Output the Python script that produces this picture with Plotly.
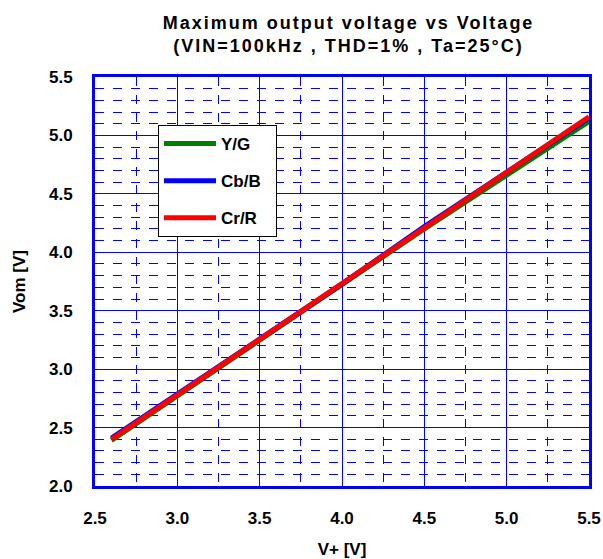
import plotly.graph_objects as go

vplus = [2.6, 3.0, 3.5, 4.0, 4.5, 5.0, 5.5]
yg = [2.39, 2.77, 3.24, 3.72, 4.20, 4.66, 5.12]
cbb = [2.41, 2.79, 3.26, 3.73, 4.22, 4.68, 5.15]
crr = [2.40, 2.78, 3.25, 3.73, 4.21, 4.68, 5.16]
names = ["Y/G", "Cb/B", "Cr/R"]
colors = ["#008000", "#0000FF", "#FF0000"]
x_ticks = [2.5, 3.0, 3.5, 4.0, 4.5, 5.0, 5.5]
y_ticks = [2.0, 2.5, 3.0, 3.5, 4.0, 4.5, 5.0, 5.5]
title_lines = ["Maximum output voltage vs Voltage", "(VIN=100kHz , THD=1% , Ta=25\u00b0C)"]

FONT = "Liberation Sans, Arial, sans-serif"
LS = '<span style="letter-spacing:2px">'
fig = go.Figure()
for i, (n, ys) in enumerate(zip(names, [yg, cbb, crr])):
    fig.add_trace(go.Scatter(x=vplus, y=ys, mode="lines", name=f"<b>{n}</b>&nbsp;&nbsp;", legendgroup=n,
                             line=dict(color=colors[i], width=5)))

fig.update_layout(
    width=603, height=559,
    margin=dict(l=95, r=14, t=77, b=73, autoexpand=False),
    paper_bgcolor="white", plot_bgcolor="white",
    font=dict(family=FONT, color="black"),
    title=dict(text="<br>".join(f"{LS}<b>{t}</b></span>" for t in title_lines),
               x=0.578, xanchor="center", xref="container", y=1 - 29 / 559, yanchor="middle", yref="container",
               font=dict(size=18, family=FONT, weight="bold")),
    legend=dict(x=(158 - 95) / 494, y=(486 - 125) / 409, xanchor="left", yanchor="top",
                bgcolor="white", bordercolor="black", borderwidth=1,
                font=dict(size=17, family=FONT, weight="bold"),
                tracegroupgap=12, itemwidth=52),
    showlegend=True,
)
fig.update_xaxes(range=[2.5, 5.5], tickvals=x_ticks, ticktext=[f"<b>{v:.1f}</b>" for v in x_ticks],
                 showgrid=True, gridcolor="#0000FF", gridwidth=1,
                 minor=dict(dtick=0.25, showgrid=True, gridcolor="#0000FF", griddash="dash", gridwidth=1, tick0=2.5),
                 showline=True, linecolor="#0000FF", linewidth=3, mirror=True,
                 ticks="outside", ticklen=15, tickcolor="rgba(0,0,0,0)", zeroline=False, automargin=False,
                 tickfont=dict(size=17, family=FONT, weight="bold"),
                 title=dict(text="<b>V+ [V]</b>", font=dict(size=17, weight="bold"), standoff=19))
fig.update_yaxes(range=[2.0, 5.5], tickvals=y_ticks, ticktext=[f"<b>{v:.1f}</b>" for v in y_ticks],
                 showgrid=True, gridcolor="#0000FF", gridwidth=1,
                 minor=dict(dtick=0.1, showgrid=True, gridcolor="#0000FF", griddash="dash", gridwidth=1, tick0=2.0),
                 showline=True, linecolor="#0000FF", linewidth=3, mirror=True,
                 ticks="outside", ticklen=16, tickcolor="rgba(0,0,0,0)", zeroline=False, automargin=False,
                 tickfont=dict(size=17, family=FONT, weight="bold"),
                 title=dict(text="<b>Vom [V]</b>", font=dict(size=17, weight="bold"), standoff=20))
fig.write_html("out.html", config={"displayModeBar": False},
               post_script="document.body.style.margin='0px';document.body.style.overflow='hidden';")
